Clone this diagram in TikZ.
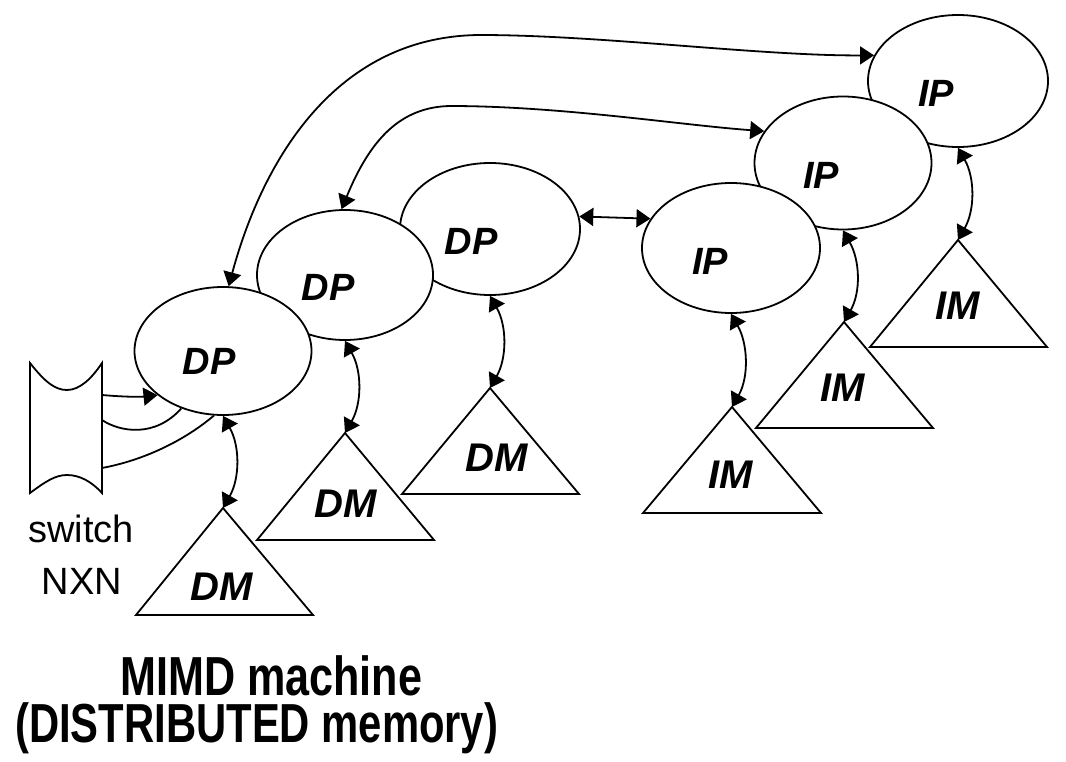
\documentclass[tikz,border=0pt]{standalone}
\usepackage{fontspec}
\setmainfont{Liberation Sans}
\usetikzlibrary{arrows.meta,shapes.geometric}
\begin{document}
\begin{tikzpicture}[x=1pt,y=-1pt,
  proc/.style={ellipse, draw, fill=white, line width=1.8pt, inner sep=0pt},
  mem/.style={draw, fill=white, line width=1.8pt, line join=miter},
  lbl/.style={font=\fontsize{38}{40}\selectfont\bfseries\itshape, inner sep=0pt},
  mlbl/.style={font=\fontsize{40}{42}\selectfont\bfseries\itshape, inner sep=0pt},
  swlbl/.style={font=\fontsize{38}{40}\selectfont, inner sep=0pt},
  ttl/.style={font=\fontsize{55}{47}\selectfont\bfseries, inner sep=0pt, align=left, anchor=north west},
  dbl/.style={line width=1.8pt, {Triangle[length=14pt,width=18pt]}-{Triangle[length=14pt,width=18pt]}},
  one/.style={line width=1.8pt, -{Triangle[length=14pt,width=18pt]}},
  wire/.style={line width=1.8pt},
]
\useasboundingbox (0,0) rectangle (1066,762);

% memory triangles (back to front)
\coordinate (im3) at (958,240);
\coordinate (im2) at (844,322);
\coordinate (im1) at (732,407);
\coordinate (dm3) at (490,388);
\coordinate (dm2) at (345,433);
\coordinate (dm1) at (223,508);
\filldraw[mem] (im3) -- ++(-88,107) -- ++(177,0) -- cycle;
\filldraw[mem] (im2) -- ++(-88,106) -- ++(177,0) -- cycle;
\filldraw[mem] (im1) -- ++(-89,106) -- ++(178,0) -- cycle;
\filldraw[mem] (dm3) -- ++(-88,106) -- ++(177,0) -- cycle;
\filldraw[mem] (dm2) -- ++(-88,107) -- ++(177,0) -- cycle;
\filldraw[mem] (dm1) -- ++(-87,107) -- ++(177,0) -- cycle;

% processor ellipses (back to front)
\node[proc, minimum width=180pt, minimum height=132pt] (ip3) at (958,81) {};
\node[proc, minimum width=177pt, minimum height=133pt] (ip2) at (843,163) {};
\node[proc, minimum width=178pt, minimum height=130pt] (ip1) at (731,248) {};
\node[proc, minimum width=180pt, minimum height=132pt] (dp3) at (490,229) {};
\node[proc, minimum width=176pt, minimum height=130pt] (dp2) at (345,275) {};
\node[proc, minimum width=177pt, minimum height=128pt] (dp1) at (223,351) {};

% labels
\node[lbl] (dp1t) at (209,361) {DP};
\node[lbl] (dp2t) at (328,287) {DP};
\node[lbl] (dp3t) at (471,241) {DP};
\node[lbl] (ip1t) at (710,261) {IP};
\node[lbl] (ip2t) at (821,175) {IP};
\node[lbl] (ip3t) at (936,93) {IP};
\node[mlbl] (dm1t) at (222,587) {DM};
\node[mlbl] (dm2t) at (346,504) {DM};
\node[mlbl] (dm3t) at (497,458) {DM};
\node[mlbl] (im1t) at (731,475) {IM};
\node[mlbl] (im2t) at (843,388) {IM};
\node[mlbl] (im3t) at (958,306) {IM};

% processor-memory links
\draw[dbl] (dp1.south) .. controls +(17,30) and +(17,-30) .. (dm1);
\draw[dbl] (dp2.south) .. controls +(17,30) and +(17,-30) .. (dm2);
\draw[dbl] (dp3.south) .. controls +(17,30) and +(17,-30) .. (dm3);
\draw[dbl] (ip1.south) .. controls +(17,30) and +(17,-30) .. (im1);
\draw[dbl] (ip2.south) .. controls +(17,30) and +(17,-30) .. (im2);
\draw[dbl] (ip3.south) .. controls +(17,30) and +(17,-30) .. (im3);

% processor-processor links
\draw[dbl] (dp3.8) -- (ip1.160);
\draw[dbl] (dp1.85) .. controls (260,170) and (330,36) .. (480,35)
  .. controls (600,35) and (760,56) .. (ip3.163);
\draw[dbl] (dp2.93) .. controls (370,140) and (400,107) .. (450,106)
  .. controls (560,106) and (680,125) .. (ip2.158);

% switch
\filldraw[wire, fill=white] (30,363) .. controls (45,382) and (55,390) .. (67,390)
  .. controls (80,390) and (92,378) .. (102,363) -- (102,493)
  .. controls (92,482) and (80,475) .. (67,475)
  .. controls (55,475) and (45,482) .. (30,493) -- cycle;
\coordinate (sw1) at (102,395);
\coordinate (sw2) at (102,420);
\coordinate (sw3) at (102,468);
\draw[one] (sw1) .. controls (125,397) and (140,397) .. (dp1.214);
\draw[wire] (sw2) .. controls (120,432) and (155,438) .. (dp1.234);
\draw[wire] (sw3) .. controls (145,460) and (185,440) .. (dp1.262);

\node[swlbl] (swt) at (81,529) {switch};
\node[swlbl] (nxn) at (82,581) {NXN};

% title
\node[ttl] (ttl) at (15,655) {\hspace*{105pt}\resizebox{302pt}{\height}{MIMD machine}\\
  \resizebox{483pt}{\height}{(DISTRIBUTED memory)}};
\end{tikzpicture}
\end{document}
